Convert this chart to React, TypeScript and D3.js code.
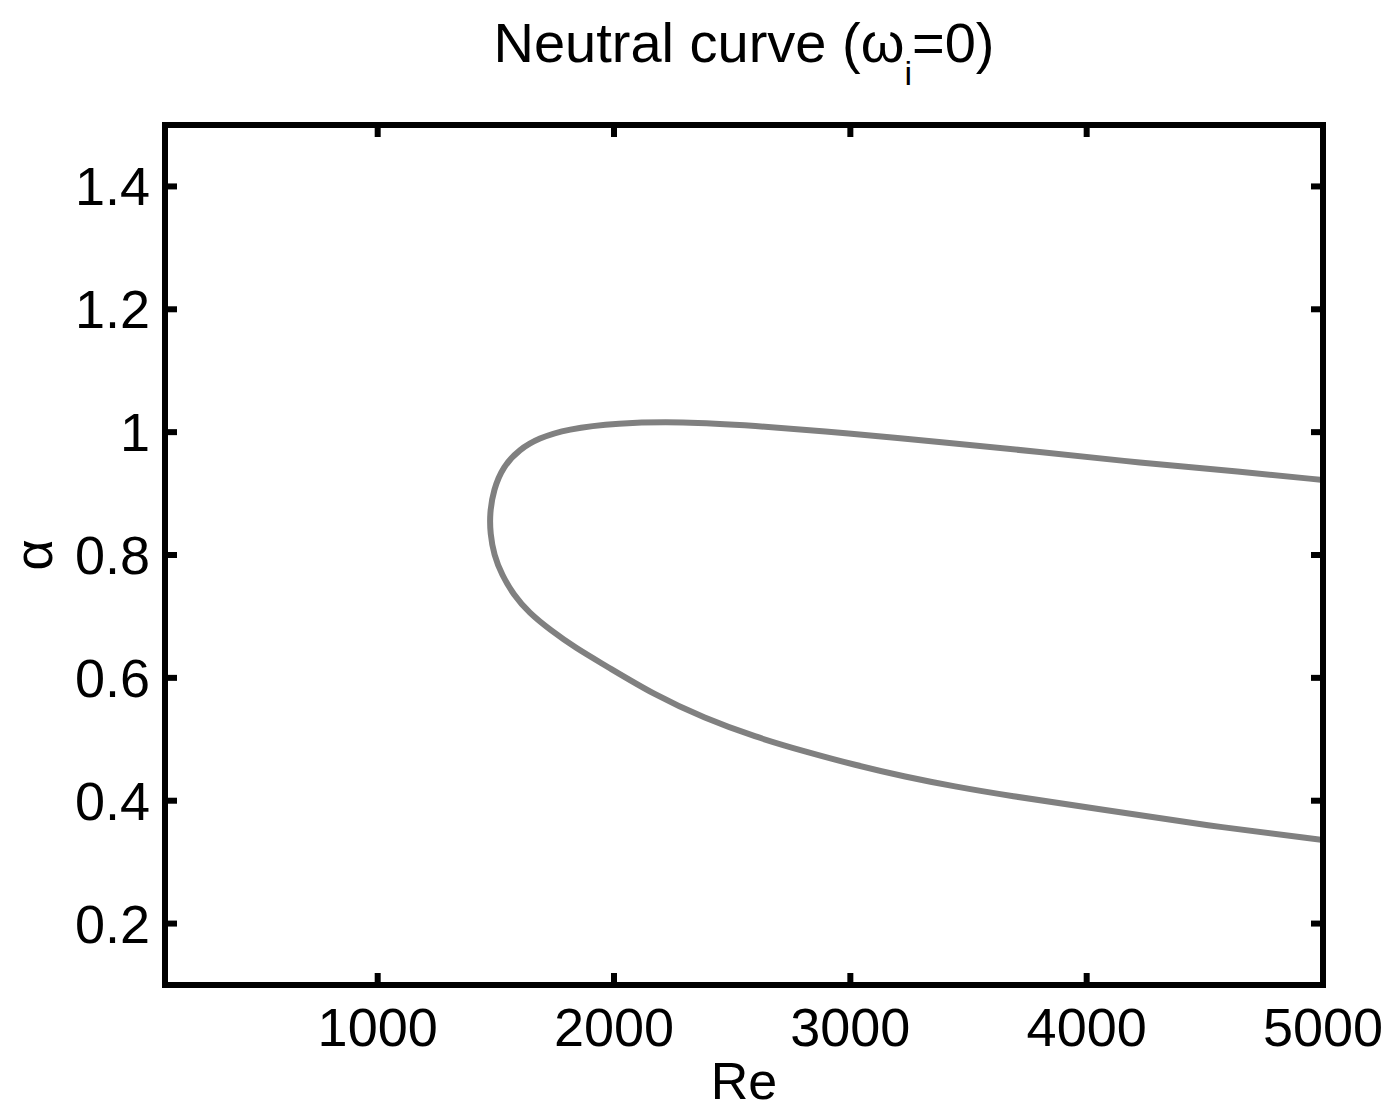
import React from "react";
import * as d3 from "d3";

const reTicks = [1000, 2000, 3000, 4000, 5000];
const reTickLabels = ["1000", "2000", "3000", "4000", "5000"];
const alphaTicks = [0.2, 0.4, 0.6, 0.8, 1.0, 1.2, 1.4];
const alphaTickLabels = ["0.2", "0.4", "0.6", "0.8", "1", "1.2", "1.4"];

// Neutral curve traced from the upper-right end, around the nose, to the lower-right end
const curveRe = [
  5000, 4650, 4225, 3800, 3380, 3000, 2575, 2290, 2010, 1800, 1680, 1600, 1530,
  1490, 1474, 1476, 1492, 1525, 1575, 1640, 1730, 1840, 1960, 2172, 2384, 2596,
  2808, 3020, 3232, 3443, 3655, 4078, 4501, 5000,
];
const curveAlpha = [
  0.922, 0.936, 0.95, 0.968, 0.984, 0.998, 1.011, 1.017, 1.015, 1.005, 0.99,
  0.972, 0.944, 0.906, 0.868, 0.835, 0.8, 0.768, 0.735, 0.706, 0.678, 0.648,
  0.621, 0.572, 0.534, 0.504, 0.48, 0.458, 0.439, 0.423, 0.409, 0.385, 0.36,
  0.336,
];

const W = 1393;
const H = 1113;
const M = { left: 165, right: 1323, top: 125, bottom: 985 };
const FONT = "'Liberation Sans', Arial, Helvetica, sans-serif";

export default function App() {
  const x = d3.scaleLinear().domain([100, 5000]).range([M.left, M.right]);
  const y = d3.scaleLinear().domain([0.1, 1.5]).range([M.bottom, M.top]);
  const pts: [number, number][] = curveRe.map((r, i) => [r, curveAlpha[i]]);
  const line = d3
    .line<[number, number]>()
    .x((d) => x(d[0]))
    .y((d) => y(d[1]))
    .curve(d3.curveBasis);
  const tickLen = 12;
  const sw = 6;
  const cx = (M.left + M.right) / 2;

  return (
    <svg
      width={W}
      height={H}
      style={{ position: "absolute", left: 0, top: 0, background: "#fff" }}
      fontFamily={FONT}
    >
      <rect x={0} y={0} width={W} height={H} fill="#fff" />
      <defs>
        <clipPath id="plotclip">
          <rect x={M.left} y={M.top} width={M.right - M.left} height={M.bottom - M.top} />
        </clipPath>
      </defs>
      <path
        d={line(pts) || ""}
        fill="none"
        stroke="#808080"
        strokeWidth={6}
        strokeLinejoin="round"
        clipPath="url(#plotclip)"
      />
      {/* frame */}
      <rect
        x={M.left}
        y={M.top}
        width={M.right - M.left}
        height={M.bottom - M.top}
        fill="none"
        stroke="#000"
        strokeWidth={sw}
      />
      {/* x ticks */}
      {reTicks.map((t, i) => (
        <g key={"xt" + i}>
          <line x1={x(t)} x2={x(t)} y1={M.bottom} y2={M.bottom - tickLen} stroke="#000" strokeWidth={sw} />
          <line x1={x(t)} x2={x(t)} y1={M.top} y2={M.top + tickLen} stroke="#000" strokeWidth={sw} />
          <text x={x(t)} y={1046} fontSize={54} textAnchor="middle" fill="#000">
            {reTickLabels[i]}
          </text>
        </g>
      ))}
      {/* y ticks */}
      {alphaTicks.map((t, i) => (
        <g key={"yt" + i}>
          <line x1={M.left} x2={M.left + tickLen} y1={y(t)} y2={y(t)} stroke="#000" strokeWidth={sw} />
          <line x1={M.right} x2={M.right - tickLen} y1={y(t)} y2={y(t)} stroke="#000" strokeWidth={sw} />
          <text x={150} y={y(t) + 19} fontSize={54} textAnchor="end" fill="#000">
            {alphaTickLabels[i]}
          </text>
        </g>
      ))}
      {/* axis labels */}
      <text x={cx} y={1099} fontSize={52} textAnchor="middle" fill="#000">
        Re
      </text>
      <text
        transform={`translate(52, ${y(0.8)}) rotate(-90)`}
        fontSize={54}
        textAnchor="middle"
        fill="#000"
      >
        α
      </text>
      {/* title */}
      <text x={cx} y={62} fontSize={56} textAnchor="middle" fill="#000">
        Neutral curve (ω
        <tspan fontSize={34} dy={23}>i</tspan>
        <tspan dy={-23}>=0)</tspan>
      </text>
    </svg>
  );
}
